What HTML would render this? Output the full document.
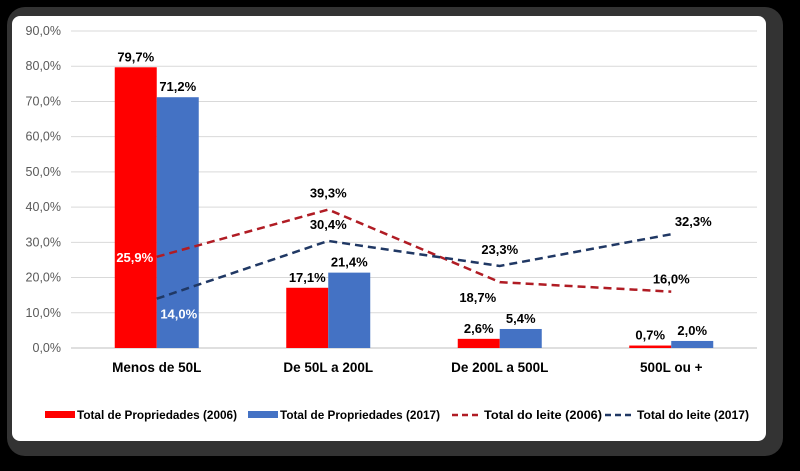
<!DOCTYPE html>
<html><head><meta charset="utf-8"><style>
html,body{margin:0;padding:0;background:#000;width:800px;height:471px;overflow:hidden}
svg{display:block}
text{font-family:"Liberation Sans",Arial,sans-serif}
</style></head><body>
<svg id="chart" width="800" height="471">
<rect x="7" y="7" width="776" height="449" rx="18" fill="#333"/>
<rect x="12" y="16" width="754" height="425" rx="8" fill="#fff"/>
<g id="grid"></g><g id="bars"></g><g id="lines"></g><g id="labels"></g><g id="legend"></g>
</svg>
<script>
const categories=["Menos de 50L","De 50L a 200L","De 200L a 500L","500L ou +"];
const props2006=[79.7,17.1,2.6,0.7];
const props2017=[71.2,21.4,5.4,2.0];
const leite2006=[25.9,39.3,18.7,16.0];
const leite2017=[14.0,30.4,23.3,32.3];
const yTicks=[0,10,20,30,40,50,60,70,80,90];
const NS="http://www.w3.org/2000/svg";
const x0=71,x1=757,y0=348,yTop=31,yMax=90;
const band=(x1-x0)/categories.length;
const xc=i=>x0+band*(i+0.5);
const y=v=>y0-(v/yMax)*(y0-yTop);
const fmt=v=>v.toFixed(1).replace('.',',')+'%';
function el(t,a,p){const e=document.createElementNS(NS,t);for(const k in a)e.setAttribute(k,a[k]);document.getElementById(p).appendChild(e);return e;}
yTicks.forEach(t=>{
 const l=el('line',{x1:x0,x2:x1,y1:y(t),y2:y(t),stroke:t===0?'#bfbfbf':'#d9d9d9','stroke-width':1},'grid');
 
 
 const tx=el('text',{x:61,y:y(t)+4,'text-anchor':'end','font-size':12.5,fill:'#595959'},'grid');
 tx.textContent=fmt(t);
 
 
});
const bw=42;
categories.forEach((c,i)=>{
 const cx=xc(i);
 const r=el('rect',{x:cx-bw,y:y(props2006[i]),width:bw,height:y0-y(props2006[i]),fill:'#ff0000'},'bars');
 
 
 const b=el('rect',{x:cx,y:y(props2017[i]),width:bw,height:y0-y(props2017[i]),fill:'#4472c4'},'bars');
 
 
 const t=el('text',{x:cx,y:372,'text-anchor':'middle','font-size':13.5,'font-weight':'bold',fill:'#000'},'labels');
 t.textContent=c;
 
 
 const l1=el('text',{x:cx-bw/2,y:y(props2006[i])-6,'text-anchor':'middle','font-size':13,'font-weight':'bold',fill:'#000'},'labels');
 l1.textContent=fmt(props2006[i]);
 
 
 const l2=el('text',{x:cx+bw/2,y:y(props2017[i])-6,'text-anchor':'middle','font-size':13,'font-weight':'bold',fill:'#000'},'labels');
 l2.textContent=fmt(props2017[i]);
 
 
});
function line(data,color,name){
 const p=el('polyline',{points:data.map((v,i)=>xc(i)+','+y(v)).join(' '),fill:'none',stroke:color,'stroke-width':2.5,'stroke-dasharray':'8,5'},'lines');
 
 
}
line(leite2006,'#b01c24','line-leite-2006');
line(leite2017,'#203864','line-leite-2017');
const off2006=[[-22,5,'#fff'],[0,-12,'#000'],[-22,20,'#000'],[0,-8,'#000']];
const off2017=[[22,20,'#fff'],[0,-12,'#000'],[0,-12,'#000'],[22,-8,'#000']];
leite2006.forEach((v,i)=>{
 const t=el('text',{x:xc(i)+off2006[i][0],y:y(v)+off2006[i][1],'text-anchor':'middle','font-size':13,'font-weight':'bold',fill:off2006[i][2]},'labels');
 t.textContent=fmt(v);
 
 
});
leite2017.forEach((v,i)=>{
 const t=el('text',{x:xc(i)+off2017[i][0],y:y(v)+off2017[i][1],'text-anchor':'middle','font-size':13,'font-weight':'bold',fill:off2017[i][2]},'labels');
 t.textContent=fmt(v);
 
 
});
const legend=[["Total de Propriedades (2006)",'#ff0000',false,45,160],["Total de Propriedades (2017)",'#4472c4',false,248,160],["Total do leite (2006)",'#b01c24',true,452,118],["Total do leite (2017)",'#203864',true,605,112]];
legend.forEach(([n,c,d,x,w])=>{
 const g=el('g',{},'legend');
 
 
 let s;
 if(d){s=document.createElementNS(NS,'line');s.setAttribute('x1',x);s.setAttribute('x2',x+29);s.setAttribute('y1',415);s.setAttribute('y2',415);s.setAttribute('stroke',c);s.setAttribute('stroke-width',2.5);s.setAttribute('stroke-dasharray','6,4');}
 else{s=document.createElementNS(NS,'rect');s.setAttribute('x',x);s.setAttribute('y',411);s.setAttribute('width',30);s.setAttribute('height',7);s.setAttribute('fill',c);}
 
 
 g.appendChild(s);
 const t=document.createElementNS(NS,'text');t.setAttribute('x',x+32);t.setAttribute('y',419);t.setAttribute('font-size',12);t.setAttribute('font-weight','bold');t.setAttribute('fill','#000');t.setAttribute('textLength',w);t.setAttribute('lengthAdjust','spacingAndGlyphs');t.textContent=n;
 
 
 g.appendChild(t);
});
</script>
</body></html>
